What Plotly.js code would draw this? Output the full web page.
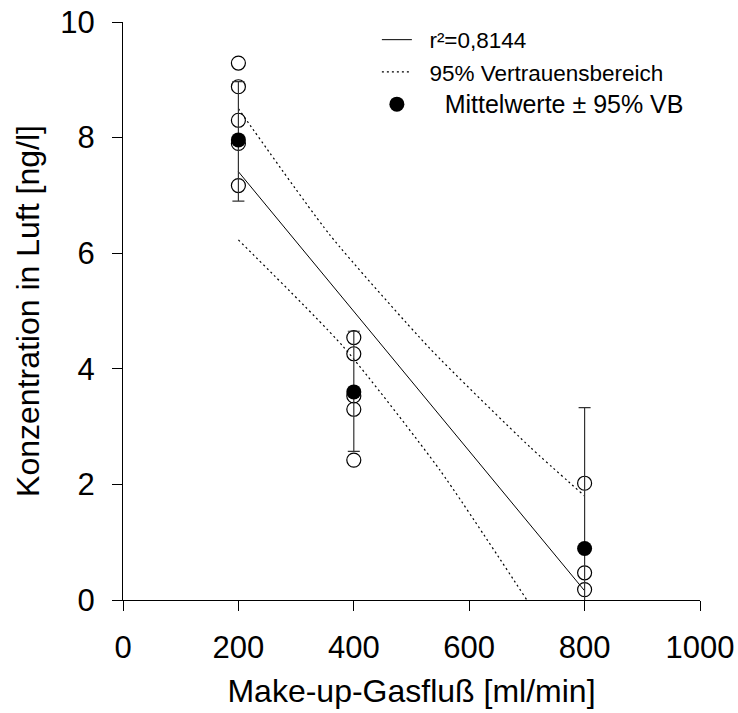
<!DOCTYPE html>
<html>
<head>
<meta charset="utf-8">
<script src="https://cdn.plot.ly/plotly-3.0.1.min.js"></script>
<style>html,body{margin:0;padding:0;background:#fff;}#chart{width:738px;height:713px;}</style>
</head>
<body>
<div id="chart"></div>
<script>
// Raw measurements (open circles)
const rawX = [200, 200, 200, 200, 200, 400, 400, 400, 400, 400, 800, 800, 800];
const rawY = [9.29, 8.88, 8.30, 7.90, 7.17, 4.54, 4.26, 3.53, 3.30, 2.42, 2.02, 0.47, 0.18];

// Means ± 95% confidence interval
const meanX = [200, 400, 800];
const meanY = [7.96, 3.60, 0.89];
const errPlus = [1.01, 1.05, 2.44];
const errMinus = [1.06, 1.03, 2.44];

// Regression line
const fitX = [200, 800];
const fitY = [7.41, 0.16];

// 95% confidence band
const upperX = [200, 359, 532, 705, 800];
const upperY = [8.50, 6.31, 4.35, 2.65, 1.80];
const lowerX = [200, 382, 549, 700];
const lowerY = [6.23, 4.38, 2.25, 0.00];

const NB = '\u00a0';
const legendLabels = [
  NB + NB + 'r²=0,8144',
  NB + NB + '95% Vertrauensbereich',
  '<span style="font-size:25px">' + NB + NB + NB + NB + 'Mittelwerte ± 95% VB</span>'
];

const FONT = 'Arial, "Liberation Sans", sans-serif';

const traces = [
  {x: fitX, y: fitY, mode: 'lines', type: 'scatter', name: legendLabels[0],
   line: {color: '#000', width: 1}, legendgroup: 'a', legendrank: 1},
  {x: upperX, y: upperY, mode: 'lines', type: 'scatter', name: legendLabels[1],
   line: {color: '#000', width: 1.2, dash: '2px,3px', shape: 'spline', smoothing: 0.6}, legendgroup: 'b', legendrank: 2},
  {x: lowerX, y: lowerY, mode: 'lines', type: 'scatter', name: legendLabels[1],
   line: {color: '#000', width: 1.2, dash: '2px,3px', shape: 'spline', smoothing: 0.6}, legendgroup: 'b', showlegend: false},
  {x: rawX, y: rawY, mode: 'markers', type: 'scatter', showlegend: false,
   marker: {symbol: 'circle-open', size: 14, color: '#000', line: {width: 1.2, color: '#000'}}},
  {x: meanX, y: meanY, mode: 'markers', type: 'scatter', name: legendLabels[2],
   marker: {symbol: 'circle', size: 15, color: '#000'}, legendgroup: 'c', legendrank: 3,
   error_y: {type: 'data', symmetric: false, array: errPlus, arrayminus: errMinus,
             color: '#333', thickness: 1.2, width: 6}}
];

const layout = {
  width: 738, height: 713,
  margin: {l: 123, r: 38, t: 22, b: 113},
  paper_bgcolor: '#fff', plot_bgcolor: '#fff',
  font: {family: FONT, color: '#000'},
  showlegend: true,
  legend: {x: 0.44, y: 1.006, xanchor: 'left', yanchor: 'top', bgcolor: 'rgba(0,0,0,0)',
           traceorder: 'grouped', tracegroupgap: 0, font: {family: FONT, size: 22.5, color: '#000'}},
  xaxis: {range: [0, 1000], tickvals: [0, 200, 400, 600, 800, 1000], ticks: 'outside', ticklen: 10,
          tickcolor: '#000', tickwidth: 1, showline: true, linecolor: '#000', linewidth: 1,
          showgrid: false, zeroline: false, ticklabelstandoff: 10,
          tickfont: {family: FONT, size: 31, color: '#000'},
          title: {text: 'Make-up-Gasfluß [ml/min]', font: {family: FONT, size: 32, color: '#000'}, standoff: 15}},
  yaxis: {range: [0, 10], tickvals: [0, 2, 4, 6, 8, 10], ticks: 'outside', ticklen: 10,
          tickcolor: '#000', tickwidth: 1, showline: true, linecolor: '#000', linewidth: 1,
          showgrid: false, zeroline: false, ticklabelstandoff: 11,
          tickfont: {family: FONT, size: 31, color: '#000'},
          title: {text: 'Konzentration in Luft [ng/l]', font: {family: FONT, size: 32, color: '#000'}, standoff: 11}}
};

Plotly.newPlot('chart', traces, layout, {displayModeBar: false, staticPlot: true});
</script>
</body>
</html>
